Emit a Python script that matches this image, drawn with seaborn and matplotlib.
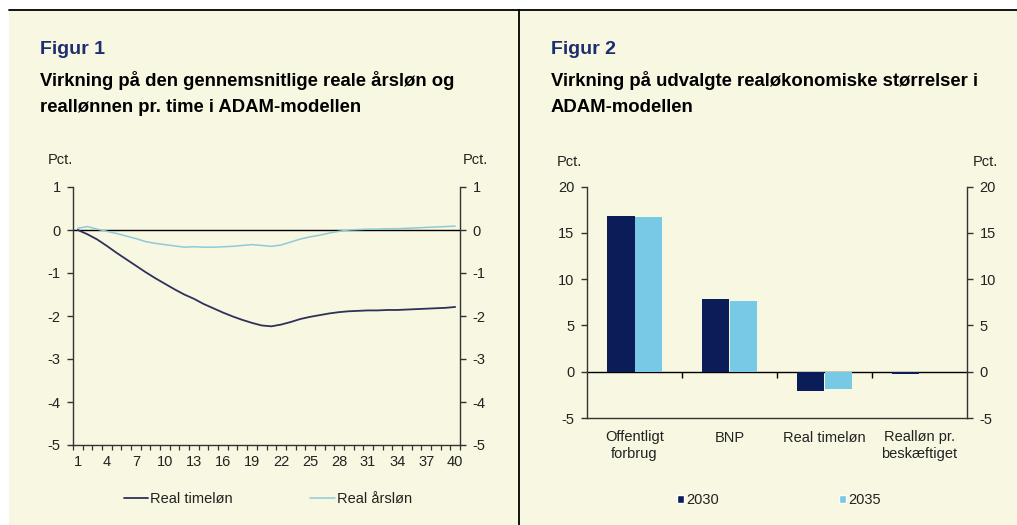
import numpy as np
import pandas as pd
import matplotlib.pyplot as plt
import seaborn as sns
from matplotlib.patches import Rectangle, Patch
from matplotlib.lines import Line2D

# data
aar = list(range(1, 41))
real_timeloen = [0.0, -0.10, -0.22, -0.37, -0.53, -0.68, -0.83, -0.98, -1.12, -1.25,
                 -1.38, -1.50, -1.60, -1.72, -1.82, -1.92, -2.01, -2.09, -2.16, -2.22,
                 -2.24, -2.20, -2.14, -2.07, -2.02, -1.98, -1.94, -1.91, -1.89, -1.88,
                 -1.87, -1.87, -1.86, -1.86, -1.85, -1.84, -1.83, -1.82, -1.81, -1.79]
real_aarsloen = [0.04, 0.08, 0.02, -0.03, -0.08, -0.14, -0.20, -0.27, -0.31, -0.34,
                 -0.37, -0.40, -0.39, -0.40, -0.40, -0.39, -0.38, -0.36, -0.34, -0.36,
                 -0.38, -0.35, -0.28, -0.21, -0.16, -0.12, -0.07, -0.03, 0.0, 0.01,
                 0.02, 0.02, 0.03, 0.03, 0.04, 0.05, 0.06, 0.07, 0.08, 0.09]

kategorier = ["Offentligt\nforbrug", "BNP", "Real timeløn", "Realløn pr.\nbeskæftiget"]
vaerdier_2030 = [16.8, 7.8, -2.1, -0.25]
vaerdier_2035 = [16.7, 7.65, -1.9, 0.0]

BG = "#f8f7e1"
DARK_LINE = "#2e3159"
LIGHT_LINE = "#8ecbd9"
NAVY = "#0b1d58"
LIGHTBLUE = "#78c9e6"
TITLE_BLUE = "#1b2f6e"
TXT = "#222222"
FS = 10.5

sns.set_style("ticks")
plt.rcParams['font.family'] = ['Liberation Sans', 'DejaVu Sans']
plt.rcParams['axes.unicode_minus'] = False

W, H = 1017, 525
fig = plt.figure(figsize=(W / 100, H / 100), dpi=100, facecolor="white")
fig.add_artist(Rectangle((9 / W, 0), 1 - 9 / W, (H - 10) / H, transform=fig.transFigure,
                         facecolor=BG, edgecolor="none", zorder=0))
fig.add_artist(Line2D([9 / W, 1], [1 - 9.5 / H] * 2, color="black", lw=1.3))
fig.add_artist(Line2D([519 / W] * 2, [0, 1 - 9.5 / H], color="black", lw=1.3))

# titles
fig.text(40 / W, 1 - 50 / H, "Figur 1", color=TITLE_BLUE, fontsize=14, fontweight="bold", va="center")
fig.text(40 / W, 1 - 80 / H, "Virkning på den gennemsnitlige reale årsløn og", color="black",
         fontsize=13.3, fontweight="bold", va="center")
fig.text(40 / W, 1 - 108 / H, "reallønnen pr. time i ADAM-modellen", color="black",
         fontsize=13.3, fontweight="bold", va="center")
fig.text(551 / W, 1 - 50 / H, "Figur 2", color=TITLE_BLUE, fontsize=14, fontweight="bold", va="center")
fig.text(551 / W, 1 - 80 / H, "Virkning på udvalgte realøkonomiske størrelser i", color="black",
         fontsize=13.3, fontweight="bold", va="center")
fig.text(551 / W, 1 - 108 / H, "ADAM-modellen", color="black",
         fontsize=13.3, fontweight="bold", va="center")

# Pct. labels
for x, y in [(60, 160), (475, 160), (569, 162), (985, 162)]:
    fig.text(x / W, 1 - y / H, "Pct.", fontsize=FS, color=TXT, ha="center", va="center")


def style_axes(ax):
    ax.set_facecolor("none")
    ax.spines["top"].set_visible(False)
    for s in ["left", "right", "bottom"]:
        ax.spines[s].set_visible(True)
        ax.spines[s].set_color("#333333")
        ax.spines[s].set_linewidth(1.0)
    ax.tick_params(axis="y", which="both", left=True, right=True, labelleft=True,
                   labelright=True, direction="out", length=4, width=1, color="#333333",
                   labelsize=FS, labelcolor=TXT, pad=5)
    ax.set_xlabel("")
    ax.set_ylabel("")


# Figur 1: line chart
ax1 = fig.add_axes([73 / W, (H - 445) / H, 387 / W, 258 / H])
df1 = pd.DataFrame({
    "år": aar * 2,
    "værdi": real_timeloen + real_aarsloen,
    "serie": ["Real timeløn"] * len(aar) + ["Real årsløn"] * len(aar),
})
ax1.axhline(0, color="black", lw=1.0, zorder=1)
sns.lineplot(data=df1, x="år", y="værdi", hue="serie", palette=[DARK_LINE, LIGHT_LINE],
             ax=ax1, legend=False, zorder=2)
for ln, lw in zip(ax1.get_lines()[1:], [1.3, 1.1]):
    ln.set_linewidth(lw)
ax1.set_xlim(0.5, 40.5)
ax1.set_ylim(-5, 1)
ax1.set_yticks(range(-5, 2))
ax1.set_xticks(range(1, 41, 3))
ax1.set_xticks(np.arange(0.5, 41, 1), minor=True)
style_axes(ax1)
ax1.tick_params(axis="x", which="major", length=0, pad=7, labelsize=FS, labelcolor=TXT)
ax1.tick_params(axis="x", which="minor", bottom=True, length=3.5, width=0.9, direction="out", color="#333333")

leg1 = [Line2D([], [], color=DARK_LINE, lw=1.3), Line2D([], [], color=LIGHT_LINE, lw=1.1)]
fig.legend(leg1, ["Real timeløn", "Real årsløn"], loc="center", bbox_to_anchor=(268 / W, 1 - 499 / H),
           ncol=2, frameon=False, fontsize=FS, handlelength=1.7, handletextpad=0.15,
           columnspacing=5.3, labelcolor=TXT)

# Figur 2: bar chart
ax2 = fig.add_axes([587 / W, (H - 418) / H, 380 / W, 231.5 / H])
df2 = pd.DataFrame({
    "kategori": kategorier * 2,
    "værdi": vaerdier_2030 + vaerdier_2035,
    "år": ["2030"] * len(kategorier) + ["2035"] * len(kategorier),
})
sns.barplot(data=df2, x="kategori", y="værdi", hue="år", palette=[NAVY, LIGHTBLUE],
            width=0.58, saturation=1, ax=ax2, legend=False, zorder=2,
            linewidth=0, edgecolor="none")
ax2.set_ylim(-5, 20)
ax2.set_yticks(range(-5, 21, 5))
ax2.set_xlim(-0.5, len(kategorier) - 0.5)
style_axes(ax2)
ax2.tick_params(axis="x", length=0, pad=9, labelsize=FS, labelcolor=TXT)

# zero line with category separators
sec = ax2.secondary_xaxis(0.2)
sec.set_xticks(np.arange(0.5, len(kategorier) - 1, 1))
sec.set_xticklabels([])
sec.tick_params(axis="x", length=4, width=1, direction="out", color="black")
for s in sec.spines.values():
    s.set_color("black")
    s.set_linewidth(1.0)

leg2 = [Patch(facecolor=NAVY), Patch(facecolor=LIGHTBLUE)]
fig.legend(leg2, ["2030", "2035"], loc="center", bbox_to_anchor=(779 / W, 1 - 500 / H),
           ncol=2, frameon=False, fontsize=FS, handlelength=0.5, handleheight=0.5,
           handletextpad=0.15, columnspacing=8.2, labelcolor=TXT)

fig.savefig("out.png", dpi=100, facecolor=fig.get_facecolor())
